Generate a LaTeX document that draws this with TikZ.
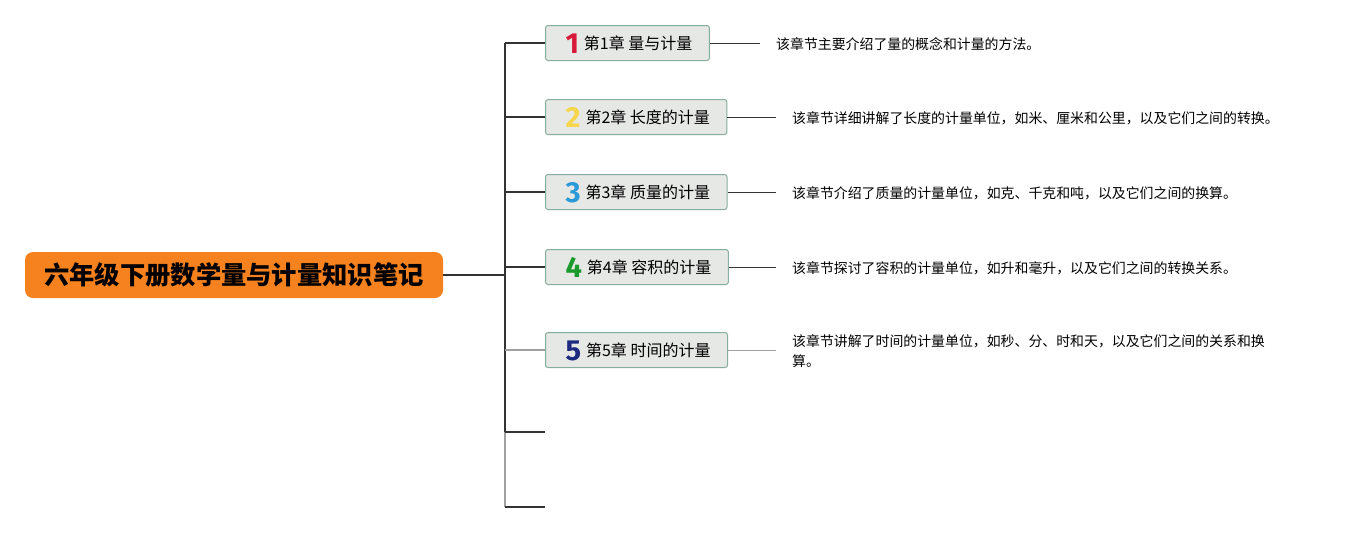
\documentclass[tikz,border=0pt]{standalone}
\usepackage{fontspec}
\setmainfont{Noto Sans CJK SC}
\newfontfamily\numfont{Fira Sans}
\definecolor{rootor}{HTML}{F5821F}
\definecolor{boxfill}{HTML}{E6E8E6}
\definecolor{boxdraw}{HTML}{86AE9E}
\definecolor{linedark}{HTML}{333333}
\definecolor{linegray}{HTML}{A0A0A0}
\definecolor{nA}{HTML}{D7193A}
\definecolor{nB}{HTML}{F6D64A}
\definecolor{nC}{HTML}{2B9AD9}
\definecolor{nD}{HTML}{1A9A2A}
\definecolor{nE}{HTML}{1E2A80}
\newcommand{\chnum}[2]{\hspace{3pt}\raisebox{-4pt}[0pt][0pt]{\numfont\bfseries\fontsize{29}{29}\selectfont\color{#1}#2}\hspace{5pt}}
\tikzset{
  rootbox/.style={fill=rootor, rounded corners=8pt, minimum width=418pt, minimum height=46pt, inner sep=0pt,
    font=\fontsize{25.3}{25.3}\selectfont\bfseries, text=black},
  chbox/.style={draw=boxdraw, fill=boxfill, line width=1pt, rounded corners=2.5pt, anchor=west,
    minimum height=35pt, inner ysep=0pt, inner xsep=17pt, font=\fontsize{16}{16}\selectfont},
  desc/.style={anchor=west, inner sep=0pt, align=left, font=\fontsize{13.9}{20}\selectfont},
  conn/.style={draw=linedark, line width=1.1pt},
  conng/.style={draw=linegray, line width=1.1pt},
  link/.style={draw=linedark, line width=1pt, shorten >=16pt},
  linkg/.style={draw=linegray, line width=1pt, shorten >=16pt}
}
\begin{document}
\begin{tikzpicture}[x=1pt,y=-1pt]
\useasboundingbox (0,0) rectangle (1351,533);
\node[rootbox] (root) at (234,275) {六年级下册数学量与计量知识笔记};
\coordinate (tr) at (505,275);
\coordinate (t1) at (505,43);
\coordinate (t2) at (505,117);
\coordinate (t3) at (505,192);
\coordinate (t4) at (505,267);
\coordinate (t5) at (505,350);
\coordinate (t6) at (505,432);
\coordinate (t7) at (505,507);
\coordinate (e6) at (545,432);
\coordinate (e7) at (545,507);

\node[chbox] (c1) at (545,43) {\chnum{nA}{1}第1章 量与计量};
\node[chbox] (c2) at (545,117) {\chnum{nB}{2}第2章 长度的计量};
\node[chbox] (c3) at (545,192) {\chnum{nC}{3}第3章 质量的计量};
\node[chbox] (c4) at (545,267) {\chnum{nD}{4}第4章 容积的计量};
\node[chbox] (c5) at (545,350) {\chnum{nE}{5}第5章 时间的计量};

\node[desc] (d1) at (776,44) {该章节主要介绍了量的概念和计量的方法。};
\node[desc] (d2) at (792,118) {该章节详细讲解了长度的计量单位，如米、厘米和公里，以及它们之间的转换。};
\node[desc] (d3) at (792,193) {该章节介绍了质量的计量单位，如克、千克和吨，以及它们之间的换算。};
\node[desc] (d4) at (792,268) {该章节探讨了容积的计量单位，如升和毫升，以及它们之间的转换关系。};
\node[desc] (d5) at (792,351) {该章节讲解了时间的计量单位，如秒、分、时和天，以及它们之间的关系和换\\算。};

\draw[conn] (root.east) -- (tr);
\draw[conn] (t1) -- (t6);
\draw[conng] (t6) -- (t7);
\draw[conn] (t1) -- (c1.west);
\draw[conn] (t2) -- (c2.west);
\draw[conn] (t3) -- (c3.west);
\draw[conn] (t4) -- (c4.west);
\draw[conng] (t5) -- (c5.west);
\draw[conn] (t6) -- (e6);
\draw[conn] (t7) -- (e7);

\draw[link] (c1.east) -- (c1.east -| d1.west);
\draw[link] (c2.east) -- (c2.east -| d2.west);
\draw[link] (c3.east) -- (c3.east -| d3.west);
\draw[link] (c4.east) -- (c4.east -| d4.west);
\draw[linkg] (c5.east) -- (c5.east -| d5.west);
\end{tikzpicture}
\end{document}
